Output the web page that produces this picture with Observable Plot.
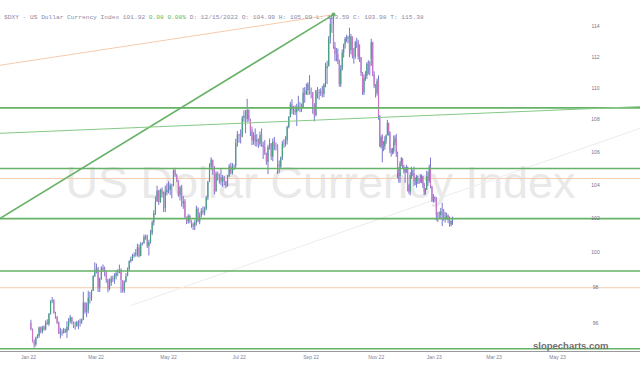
<!DOCTYPE html>
<html><head><meta charset="utf-8">
<script src="https://cdn.jsdelivr.net/npm/d3@7"></script>
<script src="https://cdn.jsdelivr.net/npm/@observablehq/plot@0.6"></script>
<style>
html,body{margin:0;padding:0;background:#fff;}
#wrap{position:relative;width:640px;height:366px;overflow:hidden;}
#chart{position:absolute;left:0;top:0;}
#title{position:absolute;left:4px;top:14px;font-family:"Liberation Mono",monospace;font-size:6.2px;line-height:8px;color:#8a8aa8;white-space:pre;}
</style></head><body>
<div id="wrap"><div id="chart"></div><div id="title"></div></div>
<script>
// ---- title text ----
const titleParts = [
  ["$DXY - US Dollar Currency Index 101.92 ", "#8a8aa8"],
  ["0.08 0.08%", "#5cb85c"],
  [" D: 12/15/2022 O: 104.99 H: 105.09 L: 103.59 C: 103.98 T: 115.38", "#8a8aa8"]
];
const watermark = "US Dollar Currency Index";
const brand = "slopecharts.com";

// ---- daily bars [close, high, low]; open = previous close ----
const firstOpen = 95.99;
const jan22 = [[95.64,96.17,95.58],[94.93,95.69,94.93],[94.80,95.08,94.63],[95.17,95.24,94.70],[95.28,95.38,95.13],[95.75,95.80,95.17],[95.52,95.79,95.42],[95.78,95.83,95.41],[95.64,95.86,95.56],[96.03,96.14,95.59],[95.92,96.20,95.90],[96.51,96.54,95.83],[97.22,97.27,96.46],[97.27,97.44,97.10],[96.54,97.32,96.52]];
const feb22 = [[96.34,96.62,96.23],[96.00,96.37,95.94],[95.39,96.08,95.39],[95.48,95.73,95.14],[95.44,95.64,95.29],[95.63,95.72,95.41],[95.51,95.68,95.44],[95.79,96.09,95.17],[96.08,96.26,95.59],[96.31,96.44,95.97],[96.03,96.33,95.92],[95.81,96.08,95.72],[95.82,96.06,95.62],[96.05,96.11,95.79],[96.02,96.15,95.65],[96.07,96.23,95.80],[96.19,96.24,95.94],[97.11,97.74,96.15],[96.62,97.18,96.51],[96.71,97.13,96.32]];
const mar22 = [[97.41,97.80,96.53],[97.39,97.73,97.08],[97.79,97.86,97.23],[98.62,98.68,97.81],[99.01,99.42,98.58],[99.07,99.35,98.79],[97.99,99.16,97.73],[98.49,98.55,97.73],[99.13,99.19,98.42],[99.00,99.30,98.87],[98.81,99.18,98.62],[98.42,98.97,98.25],[97.93,98.48,97.71],[98.22,98.50,97.82],[98.49,98.65,98.07],[98.45,98.66,98.30],[98.62,98.80,98.20],[98.79,98.95,98.44],[98.80,99.03,98.63],[98.98,99.29,98.83],[98.41,99.07,97.68],[97.80,98.38,97.69],[98.31,98.38,97.68]];
const apr22 = [[98.62,98.80,98.27],[99.04,99.13,98.64],[99.49,99.54,98.92],[99.62,99.75,99.40],[99.80,99.91,99.50],[99.84,100.00,99.70],[99.95,100.19,99.75],[100.30,100.50,99.75],[99.79,100.46,99.70],[100.49,100.59,99.77],[100.52,100.58,100.39],[100.90,101.03,100.50],[100.95,101.03,100.73],[100.37,101.03,100.25],[100.60,100.73,99.82],[101.12,101.31,100.50],[101.74,101.86,101.00],[102.30,102.46,101.56],[102.97,103.28,102.18],[103.62,103.93,102.97],[102.96,103.67,102.78]];
const may22 = [[103.70,103.75,102.90],[103.46,103.83,103.21],[102.58,103.58,102.36],[103.55,103.94,102.35],[103.66,104.07,103.35],[103.67,104.19,103.47],[103.92,104.07,103.37],[103.91,104.04,103.17],[104.85,104.92,103.89],[104.56,105.01,104.45],[104.19,104.65,104.16],[103.40,104.25,103.27],[103.83,103.93,103.04],[102.86,103.98,102.68],[103.00,103.30,102.55],[102.06,103.13,101.99],[101.80,102.09,101.65],[102.12,102.24,101.67],[101.84,102.20,101.70],[101.67,101.87,101.43],[101.50,101.74,101.30],[101.76,101.88,101.30]];
const jun22 = [[102.55,102.74,101.57],[101.82,102.64,101.75],[102.16,102.33,101.64],[102.44,102.59,102.05],[102.33,102.70,102.20],[102.56,102.67,102.16],[103.23,103.33,102.47],[104.15,104.23,103.07],[105.07,105.29,104.30],[105.52,105.65,104.89],[105.13,105.47,104.59],[103.57,105.03,103.41],[104.66,104.79,103.61],[104.48,104.78,104.23],[104.45,104.66,104.05],[104.17,104.95,103.96],[104.41,104.58,103.86],[104.21,104.51,103.95],[103.94,104.22,103.78],[104.50,104.57,103.87],[105.11,105.24,104.44],[104.69,105.32,104.63]];
const jul22 = [[105.14,105.30,104.61],[105.14,105.22,104.87],[106.52,106.79,104.97],[107.05,107.27,106.30],[107.01,107.10,106.55],[106.89,107.37,106.50],[108.09,108.22,107.00],[108.22,108.56,107.84],[108.02,108.58,107.13],[108.58,109.29,107.82],[107.99,108.62,107.86],[107.30,108.04,106.96],[106.69,107.54,106.40],[107.01,107.20,106.43],[106.62,107.43,106.33],[106.73,107.08,106.31],[106.49,106.81,106.23],[107.03,107.24,106.33],[106.43,107.43,106.30],[106.28,106.61,105.55],[105.85,106.71,105.80]];
const aug22 = [[105.36,105.93,105.20],[106.28,106.42,104.63],[106.50,106.81,106.12],[105.70,106.53,105.48],[106.61,106.81,105.41],[106.38,106.90,106.10],[106.39,106.57,106.07],[105.21,106.45,104.64],[105.07,105.46,104.70],[105.64,105.70,104.94],[106.50,106.67,105.48],[106.48,106.76,106.23],[106.70,106.95,106.31],[107.52,107.60,106.44],[108.15,108.20,107.44],[108.93,109.10,108.11],[108.60,109.27,108.32],[108.60,108.84,108.28],[108.44,108.88,108.27],[108.77,108.98,107.58],[108.82,109.48,108.52],[108.80,109.08,108.44],[108.70,108.99,108.46]];
const sep22 = [[109.68,109.99,108.76],[109.55,110.03,109.04],[109.84,110.27,109.60],[110.21,110.35,109.52],[109.70,110.79,109.56],[109.72,110.00,109.32],[109.01,109.70,108.35],[108.27,109.00,107.87],[109.82,109.86,108.18],[109.65,110.03,109.31],[109.69,109.90,109.23],[109.76,109.96,109.46],[109.59,110.11,109.38],[110.19,110.28,109.40],[111.24,111.59,110.02],[111.36,111.72,110.23],[113.19,113.33,111.36],[114.10,114.53,112.84],[114.10,114.58,113.54],[112.63,114.78,112.50],[112.17,112.94,111.70],[112.12,112.55,111.68]];
const oct22 = [[111.69,112.51,111.50],[110.22,111.80,110.06],[111.19,111.44,110.04],[112.25,112.46,111.10],[112.80,112.84,111.92],[113.15,113.27,112.51],[113.17,113.42,112.93],[113.23,113.34,112.85],[112.42,113.88,111.95],[113.31,113.46,112.15],[112.04,113.23,111.87],[112.00,112.55,111.54],[112.91,113.02,111.84],[112.92,113.22,112.54],[111.98,113.09,111.80],[111.97,112.79,111.64],[110.93,111.95,110.74],[109.71,110.99,109.54],[110.62,110.85,109.53],[110.75,111.05,110.43],[111.53,111.63,110.55]];
const nov22 = [[111.45,111.76,110.85],[111.40,111.69,110.77],[112.93,113.15,111.87],[110.83,112.96,110.73],[110.10,111.04,109.97],[109.66,110.23,109.37],[110.43,110.58,109.50],[108.20,110.78,107.98],[106.31,108.27,106.28],[106.90,107.00,106.20],[106.40,107.07,105.34],[106.33,106.65,106.03],[106.68,106.95,106.12],[106.99,107.06,106.48],[107.78,107.97,107.16],[107.21,107.78,106.98],[106.11,107.25,105.90],[105.98,106.20,105.69],[106.03,106.23,105.83],[106.63,107.00,105.88],[106.81,107.00,106.40],[105.95,107.10,105.68]];
const dec22 = [[104.72,106.00,104.38],[104.51,105.06,104.11],[105.29,105.42,104.11],[105.56,105.67,105.10],[105.08,105.60,104.96],[104.79,105.19,104.66],[104.94,105.06,104.10],[105.05,105.20,104.70],[103.97,105.09,103.59],[103.58,104.02,103.44],[104.56,104.75,103.35],[104.70,105.08,104.35],[104.69,104.90,104.50],[104.22,105.08,103.92],[104.19,104.43,103.97],[104.43,104.57,103.81],[104.32,104.52,104.03],[104.30,104.38,104.04],[104.20,104.61,104.09],[104.52,104.60,104.08],[104.00,104.49,103.80],[103.52,104.11,103.37]];
const jan23 = [[103.67,103.80,103.40],[104.52,104.83,103.69],[104.25,104.78,103.91],[105.04,105.20,104.10],[103.88,105.63,103.77],[103.02,103.92,102.95],[103.23,103.43,102.92],[103.18,103.30,102.93],[102.19,103.25,101.85],[102.20,102.37,101.77],[102.18,102.39,101.98],[102.39,102.60,101.98],[102.37,102.90,101.53],[102.06,102.54,101.84],[102.00,102.36,101.74],[102.15,102.32,101.90],[101.92,102.22,101.70],[101.63,102.10,101.50],[101.84,101.86,101.51],[101.92,102.09,101.60]];

const monthSpans = [
  ["2022-01-11","2022-02-01",jan22],["2022-02-01","2022-03-01",feb22],["2022-03-01","2022-04-01",mar22],
  ["2022-04-01","2022-05-01",apr22],["2022-05-01","2022-06-01",may22],["2022-06-01","2022-07-01",jun22],
  ["2022-07-01","2022-08-01",jul22],["2022-08-01","2022-09-01",aug22],["2022-09-01","2022-10-01",sep22],
  ["2022-10-01","2022-11-01",oct22],["2022-11-01","2022-12-01",nov22],["2022-12-01","2023-01-01",dec22],
  ["2023-01-01","2023-01-28",jan23]
];

// ---- levels and trendlines (value levels / [date, value] endpoints) ----
const greenLevels = [108.75, 105.0, 102.0, 98.95, 94.6];
const orangeLevels = [104.4, 98.0];
const greenTrend = [["2021-12-15", 102.0], ["2022-09-28", 114.78]];
const orangeTrend = [["2021-12-15", 111.46], ["2022-09-28", 114.78]];
const thinGreenTrend = [["2021-12-15", 107.16], ["2023-07-26", 108.83]];
const faintTrend = [["2022-04-06", 97.0], ["2023-07-26", 107.47]];
const peak = [["2022-09-28", 114.78]];

// ---- axes ----
const yTicks = [96, 98, 100, 102, 104, 106, 108, 110, 112, 114];
const yDomain = [94.45, 115.72];
const xTickDates = ["2022-01-03","2022-03-01","2022-05-02","2022-07-01","2022-09-01","2022-11-01","2023-01-03","2023-03-01","2023-05-01"];
const xTickLabels = ["Jan 22","Mar 22","May 22","Jul 22","Sep 22","Nov 22","Jan 23","Mar 23","May 23"];
// x scale is piecewise over trading days (the reference compresses late 2022)
const xCtrlDates = ["2022-01-28","2022-07-14","2022-09-28","2022-11-10","2023-01-06","2023-01-27"];
const xCtrlRange = [51.7, 246.7, 333, 378, 430, 452];

// ---- build ----
const base = Date.UTC(2022, 0, 3);
function tradeIdx(date) {
  const d = (date instanceof Date) ? date : new Date(date);
  const days = Math.round((d - base) / 864e5);
  const w = Math.floor(days / 7);
  return w * 5 + Math.min(days - w * 7, 4);
}
const rows = [];
let prev = firstOpen;
for (const [s, e, arr] of monthSpans) {
  const days = d3.utcDays(new Date(s), new Date(e)).filter(d => { const k = d.getUTCDay(); return k > 0 && k < 6; });
  arr.forEach((v, j) => {
    if (j >= days.length) return;
    rows.push({i: tradeIdx(days[j]), o: prev, c: v[0], h: v[1], l: v[2]});
    prev = v[0];
  });
}
const up = rows.filter(d => d.c >= d.o);
const down = rows.filter(d => d.c < d.o);
const pts = arr => arr.map(([d, v]) => ({i: tradeIdx(d), v}));
const tickIdx = xTickDates.map(tradeIdx);
const tickLabel = new Map(tickIdx.map((t, k) => [t, xTickLabels[k]]));

document.getElementById("title").innerHTML = titleParts
  .map(([t, c]) => `<span style="color:${c}">${t}</span>`).join("");

const chart = Plot.plot({
  width: 640, height: 366,
  marginTop: 0, marginRight: 0, marginLeft: 0, marginBottom: 15,
  style: {fontFamily: "Liberation Sans, Arial, sans-serif", background: "transparent"},
  x: {type: "linear", domain: xCtrlDates.map(tradeIdx), range: xCtrlRange, axis: null, label: null},
  y: {type: "log", domain: yDomain, range: [351, 0], axis: null, label: null},
  marks: [
    Plot.text([watermark], {frameAnchor: "middle", dy: 8, fontSize: 45, fill: "#e9e9e9", text: d => d}),
    Plot.ruleY(orangeLevels, {stroke: "#f6cbac", strokeWidth: 1}),
    Plot.line(pts(faintTrend), {x: "i", y: "v", stroke: "#ececec", strokeWidth: 1, clip: true}),
    Plot.line(pts(orangeTrend), {x: "i", y: "v", stroke: "#f6cbac", strokeWidth: 1, clip: true}),
    Plot.ruleX(rows, {x: "i", y1: "l", y2: "h", stroke: "#6a66c8", strokeWidth: 0.9}),
    Plot.ruleX(up, {x: "i", y1: "o", y2: "c", stroke: "#43a27c", strokeWidth: 1.2}),
    Plot.ruleX(down, {x: "i", y1: "o", y2: "c", stroke: "#cc74c6", strokeWidth: 1.2}),
    Plot.ruleY(greenLevels, {stroke: "#66b266", strokeWidth: 1.6}),
    Plot.line(pts(greenTrend), {x: "i", y: "v", stroke: "#66b266", strokeWidth: 1.6, clip: true}),
    Plot.line(pts(thinGreenTrend), {x: "i", y: "v", stroke: "#86c986", strokeWidth: 1, clip: true}),
    Plot.dot(pts(peak), {x: "i", y: "v", r: 2, fill: "#66b266"}),
    Plot.text(yTicks, {y: d => d, frameAnchor: "right", dx: -45, text: d => String(d), fontSize: 5, fill: "#70708c", textAnchor: "middle"}),
    Plot.ruleY([yDomain[0]], {stroke: "#9a9a9a", strokeWidth: 1}),
    Plot.axisX(tickIdx, {tickSize: 0, tickPadding: 4, tickFormat: d => tickLabel.get(d), fontSize: 5, fill: "#80809a", textAnchor: "start", label: null}),
    Plot.text([brand], {frameAnchor: "bottom-right", dx: -32, dy: -3, fontSize: 9.5, fontWeight: "bold", fill: "#6f6f6f", text: d => d})
  ]
});
document.getElementById("chart").appendChild(chart);
</script>
</body></html>
